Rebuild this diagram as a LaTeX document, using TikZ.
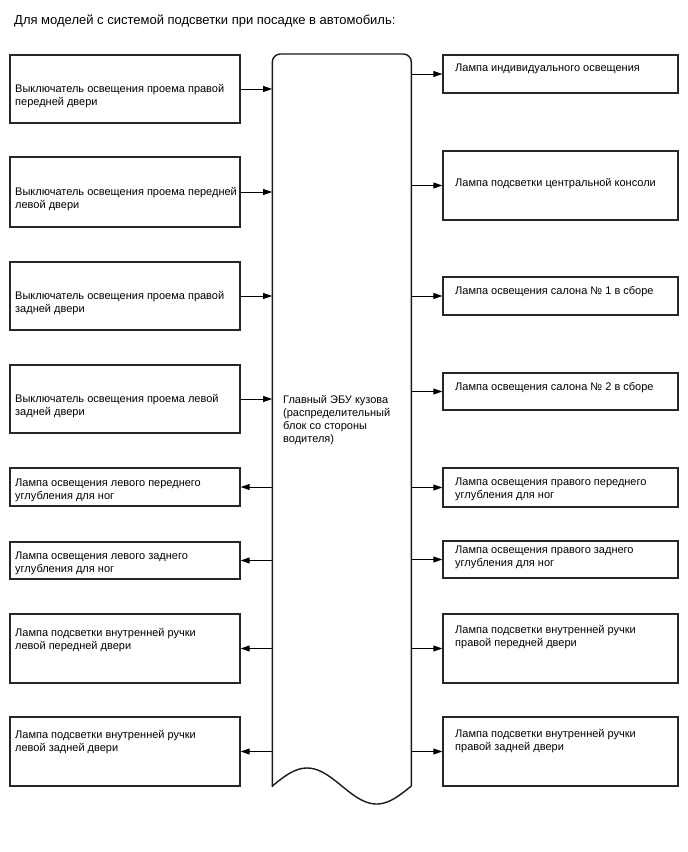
\documentclass[tikz,border=0pt]{standalone}
\usepackage{fontspec}
\setmainfont{Liberation Sans}
\usetikzlibrary{arrows.meta}
\newcommand\ts{\rule{0pt}{10pt}}
\tikzset{
  box/.style={draw=black!85, line width=1.4pt, inner sep=0pt, fill=white},
  lbox/.style={box, minimum width=230pt},
  rbox/.style={box, minimum width=235pt},
  txt/.style={anchor=north west, inner sep=0pt, align=left, font=\fontsize{11}{13}\selectfont},
  conn/.style={line width=1pt, -{Triangle[length=9pt,width=6pt]}},
  eculine/.style={line width=1.4pt, draw=black!90}
}
\begin{document}
\begin{tikzpicture}[x=1pt,y=-1pt]
\useasboundingbox (0,0) rectangle (688,852);
\node[anchor=north west, inner sep=0pt, font=\fontsize{13}{15}\selectfont] (title) at (14,13) {\rule{0pt}{11pt}Для моделей с системой подсветки при посадке в автомобиль:};

% ECU
\node[minimum width=139pt, minimum height=733pt, inner sep=0pt] (ecu) at (341.8,420.5) {};
\draw[eculine, rounded corners=8pt] (272.3,787) -- (272.3,54) -- (411.3,54) -- (411.3,786);
\draw[eculine] plot[domain=411.3:272.3, samples=60, smooth] (\x, {786-18*sin(2.58993*(\x-272.3))});
\node[txt] (ecut) at (283,393) {\ts Главный ЭБУ кузова\\(распределительный\\блок со стороны\\водителя)};

% Left boxes
\node[lbox, minimum height=68pt] (l1) at (125,89) {};
\node[lbox, minimum height=70pt] (l2) at (125,192) {};
\node[lbox, minimum height=68pt] (l3) at (125,296) {};
\node[lbox, minimum height=68pt] (l4) at (125,399) {};
\node[lbox, minimum height=38pt] (l5) at (125,487) {};
\node[lbox, minimum height=37pt] (l6) at (125,560.5) {};
\node[lbox, minimum height=69pt] (l7) at (125,648.5) {};
\node[lbox, minimum height=69pt] (l8) at (125,751.5) {};

\node[txt] (lt1) at (15,82) {\ts Выключатель освещения проема правой\\передней двери};
\node[txt] (lt2) at (15,185) {\ts Выключатель освещения проема передней\\левой двери};
\node[txt] (lt3) at (15,289) {\ts Выключатель освещения проема правой\\задней двери};
\node[txt] (lt4) at (15,392) {\ts Выключатель освещения проема левой\\задней двери};
\node[txt] (lt5) at (15,476) {\ts Лампа освещения левого переднего\\углубления для ног};
\node[txt] (lt6) at (15,549) {\ts Лампа освещения левого заднего\\углубления для ног};
\node[txt] (lt7) at (15,626) {\ts Лампа подсветки внутренней ручки\\левой передней двери};
\node[txt] (lt8) at (15,728) {\ts Лампа подсветки внутренней ручки\\левой задней двери};

% Right boxes
\node[rbox, minimum height=38pt] (r1) at (560.5,74) {};
\node[rbox, minimum height=69pt] (r2) at (560.5,185.5) {};
\node[rbox, minimum height=38pt] (r3) at (560.5,296) {};
\node[rbox, minimum height=37pt] (r4) at (560.5,391.5) {};
\node[rbox, minimum height=39pt] (r5) at (560.5,487.5) {};
\node[rbox, minimum height=37pt] (r6) at (560.5,559.5) {};
\node[rbox, minimum height=69pt] (r7) at (560.5,648.5) {};
\node[rbox, minimum height=69pt] (r8) at (560.5,751.5) {};

\node[txt] (rt1) at (455,61) {\ts Лампа индивидуального освещения};
\node[txt] (rt2) at (455,176) {\ts Лампа подсветки центральной консоли};
\node[txt] (rt3) at (455,284) {\ts Лампа освещения салона № 1 в сборе};
\node[txt] (rt4) at (455,380) {\ts Лампа освещения салона № 2 в сборе};
\node[txt] (rt5) at (455,475) {\ts Лампа освещения правого переднего\\углубления для ног};
\node[txt] (rt6) at (455,543) {\ts Лампа освещения правого заднего\\углубления для ног};
\node[txt] (rt7) at (455,623) {\ts Лампа подсветки внутренней ручки\\правой передней двери};
\node[txt] (rt8) at (455,727) {\ts Лампа подсветки внутренней ручки\\правой задней двери};

% Connectors
\foreach \i in {1,2,3,4}{
  \draw[conn] (l\i.east) -- (l\i.east -| ecu.west);
}
\foreach \i in {5,6,7,8}{
  \draw[conn] (l\i.east -| ecu.west) -- (l\i.east);
}
\foreach \i in {1,...,8}{
  \draw[conn] (r\i.west -| ecu.east) -- (r\i.west);
}
\end{tikzpicture}
\end{document}
